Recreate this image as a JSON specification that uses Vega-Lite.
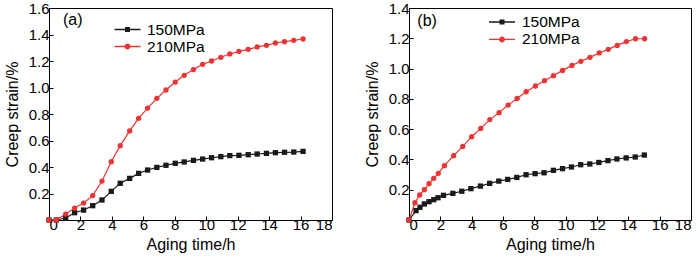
{
  "$schema": "https://vega.github.io/schema/vega-lite/v6.json",
  "background": "white",
  "padding": {"left": 3, "top": 0, "right": 0, "bottom": 0},
  "config": {
    "font": "Liberation Sans",
    "view": {"stroke": "#000000", "strokeWidth": 1},
    "axis": {
      "domainColor": "#000000",
      "tickColor": "#000000",
      "tickSize": -4,
      "grid": false,
      "labelFont": "Liberation Sans",
      "labelFontSize": 15,
      "labelColor": "#000000",
      "labelOverlap": false,
      "titleFont": "Liberation Sans",
      "titleFontSize": 16,
      "titleFontWeight": "normal",
      "titleColor": "#000000"
    },
    "axisX": {"labelPadding": 1, "titlePadding": 4},
    "axisY": {"labelPadding": 4, "titlePadding": 8},
    "legend": {
      "labelFont": "Liberation Sans",
      "labelFontSize": 15.5,
      "labelColor": "#000000",
      "padding": 0,
      "symbolOpacity": 1,
      "symbolStrokeWidth": 0,
      "rowPadding": 0
    }
  },
  "datasets": {
    "a": [
      {"t": 0, "strain": 0, "stress": "150MPa"},
      {"t": 0.47, "strain": 0, "stress": "150MPa"},
      {"t": 1.06, "strain": 0.015, "stress": "150MPa"},
      {"t": 1.63, "strain": 0.055, "stress": "150MPa"},
      {"t": 2.2, "strain": 0.075, "stress": "150MPa"},
      {"t": 2.78, "strain": 0.108, "stress": "150MPa"},
      {"t": 3.37, "strain": 0.151, "stress": "150MPa"},
      {"t": 3.96, "strain": 0.216, "stress": "150MPa"},
      {"t": 4.53, "strain": 0.277, "stress": "150MPa"},
      {"t": 5.13, "strain": 0.314, "stress": "150MPa"},
      {"t": 5.7, "strain": 0.352, "stress": "150MPa"},
      {"t": 6.27, "strain": 0.377, "stress": "150MPa"},
      {"t": 6.86, "strain": 0.397, "stress": "150MPa"},
      {"t": 7.44, "strain": 0.413, "stress": "150MPa"},
      {"t": 8.03, "strain": 0.428, "stress": "150MPa"},
      {"t": 8.6, "strain": 0.438, "stress": "150MPa"},
      {"t": 9.19, "strain": 0.45, "stress": "150MPa"},
      {"t": 9.77, "strain": 0.46, "stress": "150MPa"},
      {"t": 10.34, "strain": 0.47, "stress": "150MPa"},
      {"t": 10.93, "strain": 0.478, "stress": "150MPa"},
      {"t": 11.5, "strain": 0.486, "stress": "150MPa"},
      {"t": 12.08, "strain": 0.488, "stress": "150MPa"},
      {"t": 12.67, "strain": 0.493, "stress": "150MPa"},
      {"t": 13.24, "strain": 0.498, "stress": "150MPa"},
      {"t": 13.83, "strain": 0.503, "stress": "150MPa"},
      {"t": 14.4, "strain": 0.508, "stress": "150MPa"},
      {"t": 14.98, "strain": 0.511, "stress": "150MPa"},
      {"t": 15.57, "strain": 0.513, "stress": "150MPa"},
      {"t": 16.16, "strain": 0.518, "stress": "150MPa"},
      {"t": 0, "strain": 0, "stress": "210MPa"},
      {"t": 0.47, "strain": 0, "stress": "210MPa"},
      {"t": 1.06, "strain": 0.045, "stress": "210MPa"},
      {"t": 1.63, "strain": 0.09, "stress": "210MPa"},
      {"t": 2.2, "strain": 0.128, "stress": "210MPa"},
      {"t": 2.78, "strain": 0.184, "stress": "210MPa"},
      {"t": 3.37, "strain": 0.294, "stress": "210MPa"},
      {"t": 3.96, "strain": 0.44, "stress": "210MPa"},
      {"t": 4.53, "strain": 0.561, "stress": "210MPa"},
      {"t": 5.13, "strain": 0.672, "stress": "210MPa"},
      {"t": 5.7, "strain": 0.767, "stress": "210MPa"},
      {"t": 6.27, "strain": 0.845, "stress": "210MPa"},
      {"t": 6.86, "strain": 0.918, "stress": "210MPa"},
      {"t": 7.44, "strain": 0.981, "stress": "210MPa"},
      {"t": 8.03, "strain": 1.041, "stress": "210MPa"},
      {"t": 8.6, "strain": 1.092, "stress": "210MPa"},
      {"t": 9.19, "strain": 1.135, "stress": "210MPa"},
      {"t": 9.77, "strain": 1.175, "stress": "210MPa"},
      {"t": 10.34, "strain": 1.2, "stress": "210MPa"},
      {"t": 10.93, "strain": 1.228, "stress": "210MPa"},
      {"t": 11.5, "strain": 1.253, "stress": "210MPa"},
      {"t": 12.08, "strain": 1.273, "stress": "210MPa"},
      {"t": 12.67, "strain": 1.288, "stress": "210MPa"},
      {"t": 13.24, "strain": 1.306, "stress": "210MPa"},
      {"t": 13.83, "strain": 1.318, "stress": "210MPa"},
      {"t": 14.4, "strain": 1.336, "stress": "210MPa"},
      {"t": 14.98, "strain": 1.346, "stress": "210MPa"},
      {"t": 15.57, "strain": 1.356, "stress": "210MPa"},
      {"t": 16.16, "strain": 1.366, "stress": "210MPa"}
    ],
    "b": [
      {"t": 0, "strain": 0, "stress": "150MPa"},
      {"t": 0.45, "strain": 0.062, "stress": "150MPa"},
      {"t": 0.7, "strain": 0.084, "stress": "150MPa"},
      {"t": 0.98, "strain": 0.106, "stress": "150MPa"},
      {"t": 1.28, "strain": 0.121, "stress": "150MPa"},
      {"t": 1.58, "strain": 0.134, "stress": "150MPa"},
      {"t": 1.85, "strain": 0.147, "stress": "150MPa"},
      {"t": 2.2, "strain": 0.163, "stress": "150MPa"},
      {"t": 2.8, "strain": 0.176, "stress": "150MPa"},
      {"t": 3.37, "strain": 0.19, "stress": "150MPa"},
      {"t": 3.95, "strain": 0.207, "stress": "150MPa"},
      {"t": 4.56, "strain": 0.224, "stress": "150MPa"},
      {"t": 5.15, "strain": 0.242, "stress": "150MPa"},
      {"t": 5.73, "strain": 0.257, "stress": "150MPa"},
      {"t": 6.3, "strain": 0.268, "stress": "150MPa"},
      {"t": 6.88, "strain": 0.281, "stress": "150MPa"},
      {"t": 7.47, "strain": 0.299, "stress": "150MPa"},
      {"t": 8.05, "strain": 0.306, "stress": "150MPa"},
      {"t": 8.62, "strain": 0.312, "stress": "150MPa"},
      {"t": 9.22, "strain": 0.328, "stress": "150MPa"},
      {"t": 9.8, "strain": 0.339, "stress": "150MPa"},
      {"t": 10.37, "strain": 0.35, "stress": "150MPa"},
      {"t": 10.96, "strain": 0.365, "stress": "150MPa"},
      {"t": 11.54, "strain": 0.37, "stress": "150MPa"},
      {"t": 12.12, "strain": 0.38, "stress": "150MPa"},
      {"t": 12.7, "strain": 0.392, "stress": "150MPa"},
      {"t": 13.27, "strain": 0.403, "stress": "150MPa"},
      {"t": 13.86, "strain": 0.41, "stress": "150MPa"},
      {"t": 14.44, "strain": 0.416, "stress": "150MPa"},
      {"t": 15.02, "strain": 0.429, "stress": "150MPa"},
      {"t": 0, "strain": 0, "stress": "210MPa"},
      {"t": 0.38, "strain": 0.114, "stress": "210MPa"},
      {"t": 0.68, "strain": 0.165, "stress": "210MPa"},
      {"t": 0.98, "strain": 0.2, "stress": "210MPa"},
      {"t": 1.28, "strain": 0.24, "stress": "210MPa"},
      {"t": 1.58, "strain": 0.275, "stress": "210MPa"},
      {"t": 1.87, "strain": 0.308, "stress": "210MPa"},
      {"t": 2.26, "strain": 0.359, "stress": "210MPa"},
      {"t": 2.85, "strain": 0.425, "stress": "210MPa"},
      {"t": 3.43, "strain": 0.486, "stress": "210MPa"},
      {"t": 4.0, "strain": 0.55, "stress": "210MPa"},
      {"t": 4.58, "strain": 0.605, "stress": "210MPa"},
      {"t": 5.16, "strain": 0.663, "stress": "210MPa"},
      {"t": 5.75, "strain": 0.709, "stress": "210MPa"},
      {"t": 6.33, "strain": 0.759, "stress": "210MPa"},
      {"t": 6.9, "strain": 0.803, "stress": "210MPa"},
      {"t": 7.48, "strain": 0.847, "stress": "210MPa"},
      {"t": 8.07, "strain": 0.885, "stress": "210MPa"},
      {"t": 8.65, "strain": 0.92, "stress": "210MPa"},
      {"t": 9.22, "strain": 0.953, "stress": "210MPa"},
      {"t": 9.8, "strain": 0.988, "stress": "210MPa"},
      {"t": 10.4, "strain": 1.021, "stress": "210MPa"},
      {"t": 10.97, "strain": 1.048, "stress": "210MPa"},
      {"t": 11.55, "strain": 1.074, "stress": "210MPa"},
      {"t": 12.14, "strain": 1.103, "stress": "210MPa"},
      {"t": 12.72, "strain": 1.127, "stress": "210MPa"},
      {"t": 13.29, "strain": 1.153, "stress": "210MPa"},
      {"t": 13.87, "strain": 1.178, "stress": "210MPa"},
      {"t": 14.46, "strain": 1.197, "stress": "210MPa"},
      {"t": 15.04, "strain": 1.197, "stress": "210MPa"}
    ]
  },
  "hconcat": [
    {
      "width": 283,
      "height": 212,
      "layer": [
        {
          "data": {"name": "a"},
          "mark": {"type": "line", "strokeWidth": 1.2},
          "encoding": {
            "x": {"field": "t", "type": "quantitative", "scale": {"domain": [0, 18], "nice": false}, "axis": {"title": "Aging time/h", "values": [0, 2, 4, 6, 8, 10, 12, 14, 16, 18]}},
            "y": {"field": "strain", "type": "quantitative", "scale": {"domain": [0, 1.6], "nice": false}, "axis": {"title": "Creep strain/%", "values": [0.2, 0.4, 0.6, 0.8, 1.0, 1.2, 1.4, 1.6], "format": ".1f"}},
            "color": {"field": "stress", "type": "nominal", "scale": {"domain": ["150MPa", "210MPa"], "range": ["#1a1a1a", "#ee3333"]}, "legend": null}
          }
        },
        {
          "data": {"name": "a"},
          "mark": {"type": "point", "filled": true, "opacity": 1, "size": 28},
          "encoding": {
            "x": {"field": "t", "type": "quantitative", "scale": {"domain": [0, 18], "nice": false}, "axis": {"title": "Aging time/h", "values": [0, 2, 4, 6, 8, 10, 12, 14, 16, 18]}},
            "y": {"field": "strain", "type": "quantitative", "scale": {"domain": [0, 1.6], "nice": false}, "axis": {"title": "Creep strain/%", "values": [0.2, 0.4, 0.6, 0.8, 1.0, 1.2, 1.4, 1.6], "format": ".1f"}},
            "color": {"field": "stress", "type": "nominal", "scale": {"domain": ["150MPa", "210MPa"], "range": ["#1a1a1a", "#ee3333"]}, "legend": null},
            "shape": {"field": "stress", "type": "nominal", "scale": {"domain": ["150MPa", "210MPa"], "range": ["square", "circle"]}, "legend": null}
          }
        },
        {
          "data": {"name": "a"},
          "transform": [{"filter": "datum.stress === '150MPa'"}],
          "mark": {"type": "point", "filled": true, "opacity": 0, "size": 28, "color": "#1a1a1a"},
          "encoding": {
            "x": {"field": "t", "type": "quantitative", "scale": {"domain": [0, 18], "nice": false}, "axis": {"title": "Aging time/h", "values": [0, 2, 4, 6, 8, 10, 12, 14, 16, 18]}},
            "y": {"field": "strain", "type": "quantitative", "scale": {"domain": [0, 1.6], "nice": false}, "axis": {"title": "Creep strain/%", "values": [0.2, 0.4, 0.6, 0.8, 1.0, 1.2, 1.4, 1.6], "format": ".1f"}},
            "shape": {"field": "stress", "type": "nominal", "scale": {"domain": ["150MPa"], "range": ["M-1.37,-0.068L1.37,-0.068L1.37,0.068L-1.37,0.068Z M-0.263,-0.263L0.263,-0.263L0.263,0.263L-0.263,0.263Z"]},
              "legend": {"title": null, "orient": "none", "legendX": 69, "legendY": 12, "symbolSize": 361, "labelOffset": 10, "symbolFillColor": "#1a1a1a"}}
          }
        },
        {
          "data": {"name": "a"},
          "transform": [{"filter": "datum.stress === '210MPa'"}],
          "mark": {"type": "point", "filled": true, "opacity": 0, "size": 28, "color": "#ee3333"},
          "encoding": {
            "x": {"field": "t", "type": "quantitative", "scale": {"domain": [0, 18], "nice": false}, "axis": {"title": "Aging time/h", "values": [0, 2, 4, 6, 8, 10, 12, 14, 16, 18]}},
            "y": {"field": "strain", "type": "quantitative", "scale": {"domain": [0, 1.6], "nice": false}, "axis": {"title": "Creep strain/%", "values": [0.2, 0.4, 0.6, 0.8, 1.0, 1.2, 1.4, 1.6], "format": ".1f"}},
            "shape": {"field": "stress", "type": "nominal", "scale": {"domain": ["210MPa"], "range": ["M-1.37,-0.068L1.37,-0.068L1.37,0.068L-1.37,0.068Z M-0.316,0A0.316,0.316,0,1,1,0.316,0A0.316,0.316,0,1,1,-0.316,0Z"]},
              "legend": {"title": null, "orient": "none", "legendX": 69, "legendY": 29, "symbolSize": 361, "labelOffset": 10, "symbolFillColor": "#ee3333"}}
          }
        },
        {
          "data": {"values": [{"label": "(a)"}]},
          "mark": {"type": "text", "align": "left", "baseline": "alphabetic", "fontSize": 16, "font": "Liberation Sans", "color": "#000000"},
          "encoding": {
            "x": {"datum": 0.89, "type": "quantitative", "scale": {"domain": [0, 18], "nice": false}, "axis": {"title": "Aging time/h", "values": [0, 2, 4, 6, 8, 10, 12, 14, 16, 18]}},
            "y": {"datum": 1.47, "type": "quantitative", "scale": {"domain": [0, 1.6], "nice": false}, "axis": {"title": "Creep strain/%", "values": [0.2, 0.4, 0.6, 0.8, 1.0, 1.2, 1.4, 1.6], "format": ".1f"}},
            "text": {"field": "label", "type": "nominal"}
          }
        }
      ],
      "resolve": {"scale": {"shape": "independent"}, "legend": {"shape": "independent"}}
    },
    {
      "width": 282,
      "height": 212,
      "layer": [
        {
          "data": {"name": "b"},
          "mark": {"type": "line", "strokeWidth": 1.2},
          "encoding": {
            "x": {"field": "t", "type": "quantitative", "scale": {"domain": [0, 18], "nice": false}, "axis": {"title": "Aging time/h", "values": [0, 2, 4, 6, 8, 10, 12, 14, 16, 18]}},
            "y": {"field": "strain", "type": "quantitative", "scale": {"domain": [0, 1.4], "nice": false}, "axis": {"title": "Creep strain/%", "values": [0.2, 0.4, 0.6, 0.8, 1.0, 1.2, 1.4], "format": ".1f"}},
            "color": {"field": "stress", "type": "nominal", "scale": {"domain": ["150MPa", "210MPa"], "range": ["#1a1a1a", "#ee3333"]}, "legend": null}
          }
        },
        {
          "data": {"name": "b"},
          "mark": {"type": "point", "filled": true, "opacity": 1, "size": 28},
          "encoding": {
            "x": {"field": "t", "type": "quantitative", "scale": {"domain": [0, 18], "nice": false}, "axis": {"title": "Aging time/h", "values": [0, 2, 4, 6, 8, 10, 12, 14, 16, 18]}},
            "y": {"field": "strain", "type": "quantitative", "scale": {"domain": [0, 1.4], "nice": false}, "axis": {"title": "Creep strain/%", "values": [0.2, 0.4, 0.6, 0.8, 1.0, 1.2, 1.4], "format": ".1f"}},
            "color": {"field": "stress", "type": "nominal", "scale": {"domain": ["150MPa", "210MPa"], "range": ["#1a1a1a", "#ee3333"]}, "legend": null},
            "shape": {"field": "stress", "type": "nominal", "scale": {"domain": ["150MPa", "210MPa"], "range": ["square", "circle"]}, "legend": null}
          }
        },
        {
          "data": {"name": "b"},
          "transform": [{"filter": "datum.stress === '150MPa'"}],
          "mark": {"type": "point", "filled": true, "opacity": 0, "size": 28, "color": "#1a1a1a"},
          "encoding": {
            "x": {"field": "t", "type": "quantitative", "scale": {"domain": [0, 18], "nice": false}, "axis": {"title": "Aging time/h", "values": [0, 2, 4, 6, 8, 10, 12, 14, 16, 18]}},
            "y": {"field": "strain", "type": "quantitative", "scale": {"domain": [0, 1.4], "nice": false}, "axis": {"title": "Creep strain/%", "values": [0.2, 0.4, 0.6, 0.8, 1.0, 1.2, 1.4], "format": ".1f"}},
            "shape": {"field": "stress", "type": "nominal", "scale": {"domain": ["150MPa"], "range": ["M-1.477,-0.074L1.477,-0.074L1.477,0.074L-1.477,0.074Z M-0.284,-0.284L0.284,-0.284L0.284,0.284L-0.284,0.284Z"]},
              "legend": {"title": null, "orient": "none", "legendX": 84, "legendY": 5, "symbolSize": 310, "labelOffset": 11, "symbolFillColor": "#1a1a1a"}}
          }
        },
        {
          "data": {"name": "b"},
          "transform": [{"filter": "datum.stress === '210MPa'"}],
          "mark": {"type": "point", "filled": true, "opacity": 0, "size": 28, "color": "#ee3333"},
          "encoding": {
            "x": {"field": "t", "type": "quantitative", "scale": {"domain": [0, 18], "nice": false}, "axis": {"title": "Aging time/h", "values": [0, 2, 4, 6, 8, 10, 12, 14, 16, 18]}},
            "y": {"field": "strain", "type": "quantitative", "scale": {"domain": [0, 1.4], "nice": false}, "axis": {"title": "Creep strain/%", "values": [0.2, 0.4, 0.6, 0.8, 1.0, 1.2, 1.4], "format": ".1f"}},
            "shape": {"field": "stress", "type": "nominal", "scale": {"domain": ["210MPa"], "range": ["M-1.477,-0.074L1.477,-0.074L1.477,0.074L-1.477,0.074Z M-0.34,0A0.34,0.34,0,1,1,0.34,0A0.34,0.34,0,1,1,-0.34,0Z"]},
              "legend": {"title": null, "orient": "none", "legendX": 84, "legendY": 22.4, "symbolSize": 310, "labelOffset": 11, "symbolFillColor": "#ee3333"}}
          }
        },
        {
          "data": {"values": [{"label": "(b)"}]},
          "mark": {"type": "text", "align": "left", "baseline": "alphabetic", "fontSize": 16, "font": "Liberation Sans", "color": "#000000"},
          "encoding": {
            "x": {"datum": 0.53, "type": "quantitative", "scale": {"domain": [0, 18], "nice": false}, "axis": {"title": "Aging time/h", "values": [0, 2, 4, 6, 8, 10, 12, 14, 16, 18]}},
            "y": {"datum": 1.283, "type": "quantitative", "scale": {"domain": [0, 1.4], "nice": false}, "axis": {"title": "Creep strain/%", "values": [0.2, 0.4, 0.6, 0.8, 1.0, 1.2, 1.4], "format": ".1f"}},
            "text": {"field": "label", "type": "nominal"}
          }
        }
      ],
      "resolve": {"scale": {"shape": "independent"}, "legend": {"shape": "independent"}}
    }
  ],
  "bounds": "flush",
  "spacing": 77,
  "resolve": {"scale": {"color": "independent", "shape": "independent", "x": "independent", "y": "independent"}}
}
